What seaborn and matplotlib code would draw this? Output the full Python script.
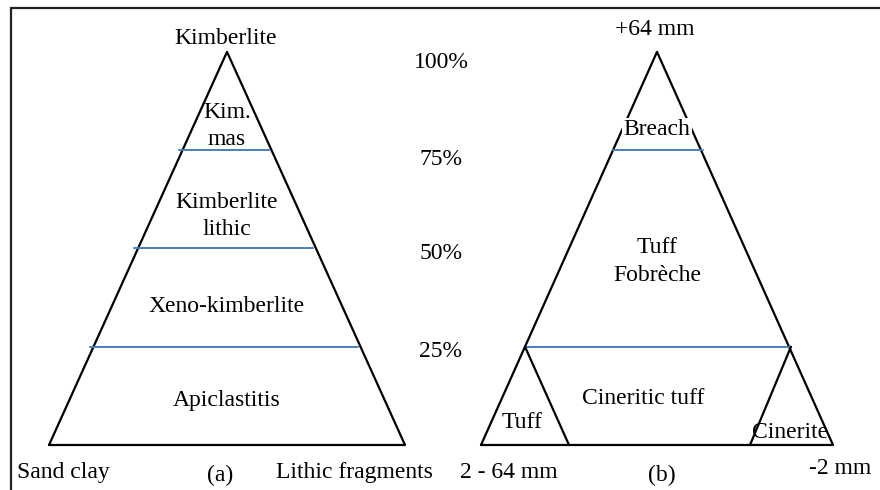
import matplotlib
matplotlib.use("Agg")
import matplotlib.pyplot as plt
import seaborn as sns
from matplotlib.patches import Rectangle

# percentage levels shared by both triangles
levels = [25, 50, 75, 100]
level_labels = ["25%", "50%", "75%", "100%"]
level_label_y = [24.5, 49.4, 73.3, 98.0]  # where the scale text sits

# (a) kimberlite triangle: zone names and their vertical centre (percent)
left_zones = ["Apiclastitis", "Xeno-kimberlite", "Kimberlite\nlithic", "Kim.\nmas"]
left_zone_y = [12, 36, 59, 82]
left_cuts = [25, 50, 75]

# (b) grain-size triangle
right_zones = ["Cineritic tuff", "Tuff\nFobrèche", "Breach"]
right_zone_y = [12.5, 47.5, 81]
right_cuts = [25, 75]

# layout (x in pixel-like units, y in percent)
L_BASE = (49, 405)
R_BASE = (481, 833)
FS = 17
DY = -0.8  # small vertical nudge for text

sns.set_theme(style="white")
plt.rcParams["font.family"] = ["Liberation Serif", "DejaVu Serif"]
plt.rcParams["text.color"] = "black"

fig = plt.figure(figsize=(8.8, 4.9), dpi=100)
ax = fig.add_axes([0, 0, 1, 1])
ax.set_xlim(0, 880)
ax.set_ylim(-11.45, 113.2)
ax.axis("off")


def edges(base, p):
    x0, x1 = base
    mid = (x0 + x1) / 2
    return x0 + (mid - x0) * p / 100, x1 - (x1 - mid) * p / 100


def seg(xs, ys, color="black", lw=1.6):
    sns.lineplot(x=xs, y=ys, sort=False, estimator=None, color=color,
                 lw=lw, ax=ax, zorder=2)


def label(x, y, s, **kw):
    ax.text(x, y + DY, s, ha="center", va="center", fontsize=FS,
            linespacing=1.4, **kw)


# triangle outlines
for base in (L_BASE, R_BASE):
    mid = (base[0] + base[1]) / 2
    seg([base[0], mid, base[1], base[0]], [0, 100, 0, 0])

# blue level lines
for p in left_cuts:
    a, b = edges(L_BASE, p)
    seg([a - 4, b - 3], [p, p], color="#4a7ebb", lw=1.4)
for p in right_cuts:
    a, b = edges(R_BASE, p)
    seg([a, b + 2], [p, p], color="#4a7ebb", lw=1.4)

# small inner triangles of (b)
a, b = edges(R_BASE, 25)
seg([a, a + 44], [25, 0])
seg([b + 2, b - 39], [25, 0])

# zone texts
lmid = sum(L_BASE) / 2
rmid = sum(R_BASE) / 2
for name, y in zip(left_zones, left_zone_y):
    label(lmid, y, name, zorder=1)
for name, y in zip(right_zones, right_zone_y):
    box = dict(facecolor="white", edgecolor="none", pad=1) if name == "Breach" else None
    label(rmid - (14 if name == "Cineritic tuff" else 0), y, name,
          zorder=3, bbox=box)
label(522, 6.4, "Tuff", zorder=1)
label(790, 4.1, "Cinerite", zorder=1)

# percent scale between the two triangles
for y, lab in zip(level_label_y, level_labels):
    label(441, y, lab)

# corner labels
label(226, 104.3, "Kimberlite")
label(655, 106.4, "+64 mm")
label(63, -6.1, "Sand clay")
label(354, -6.1, "Lithic fragments")
label(220, -7.0, "(a)")
label(509, -6.1, "2 - 64 mm")
label(662, -7.0, "(b)")
label(840, -5.3, "-2 mm")

# frame (only left and top edges fall inside the image)
fig.patches.append(Rectangle((11 / 880, -0.1), 1.2, 1.1 - 8 / 490,
                             transform=fig.transFigure, fill=False,
                             edgecolor="#222222", lw=1.6))

fig.savefig("out.png", dpi=100)
